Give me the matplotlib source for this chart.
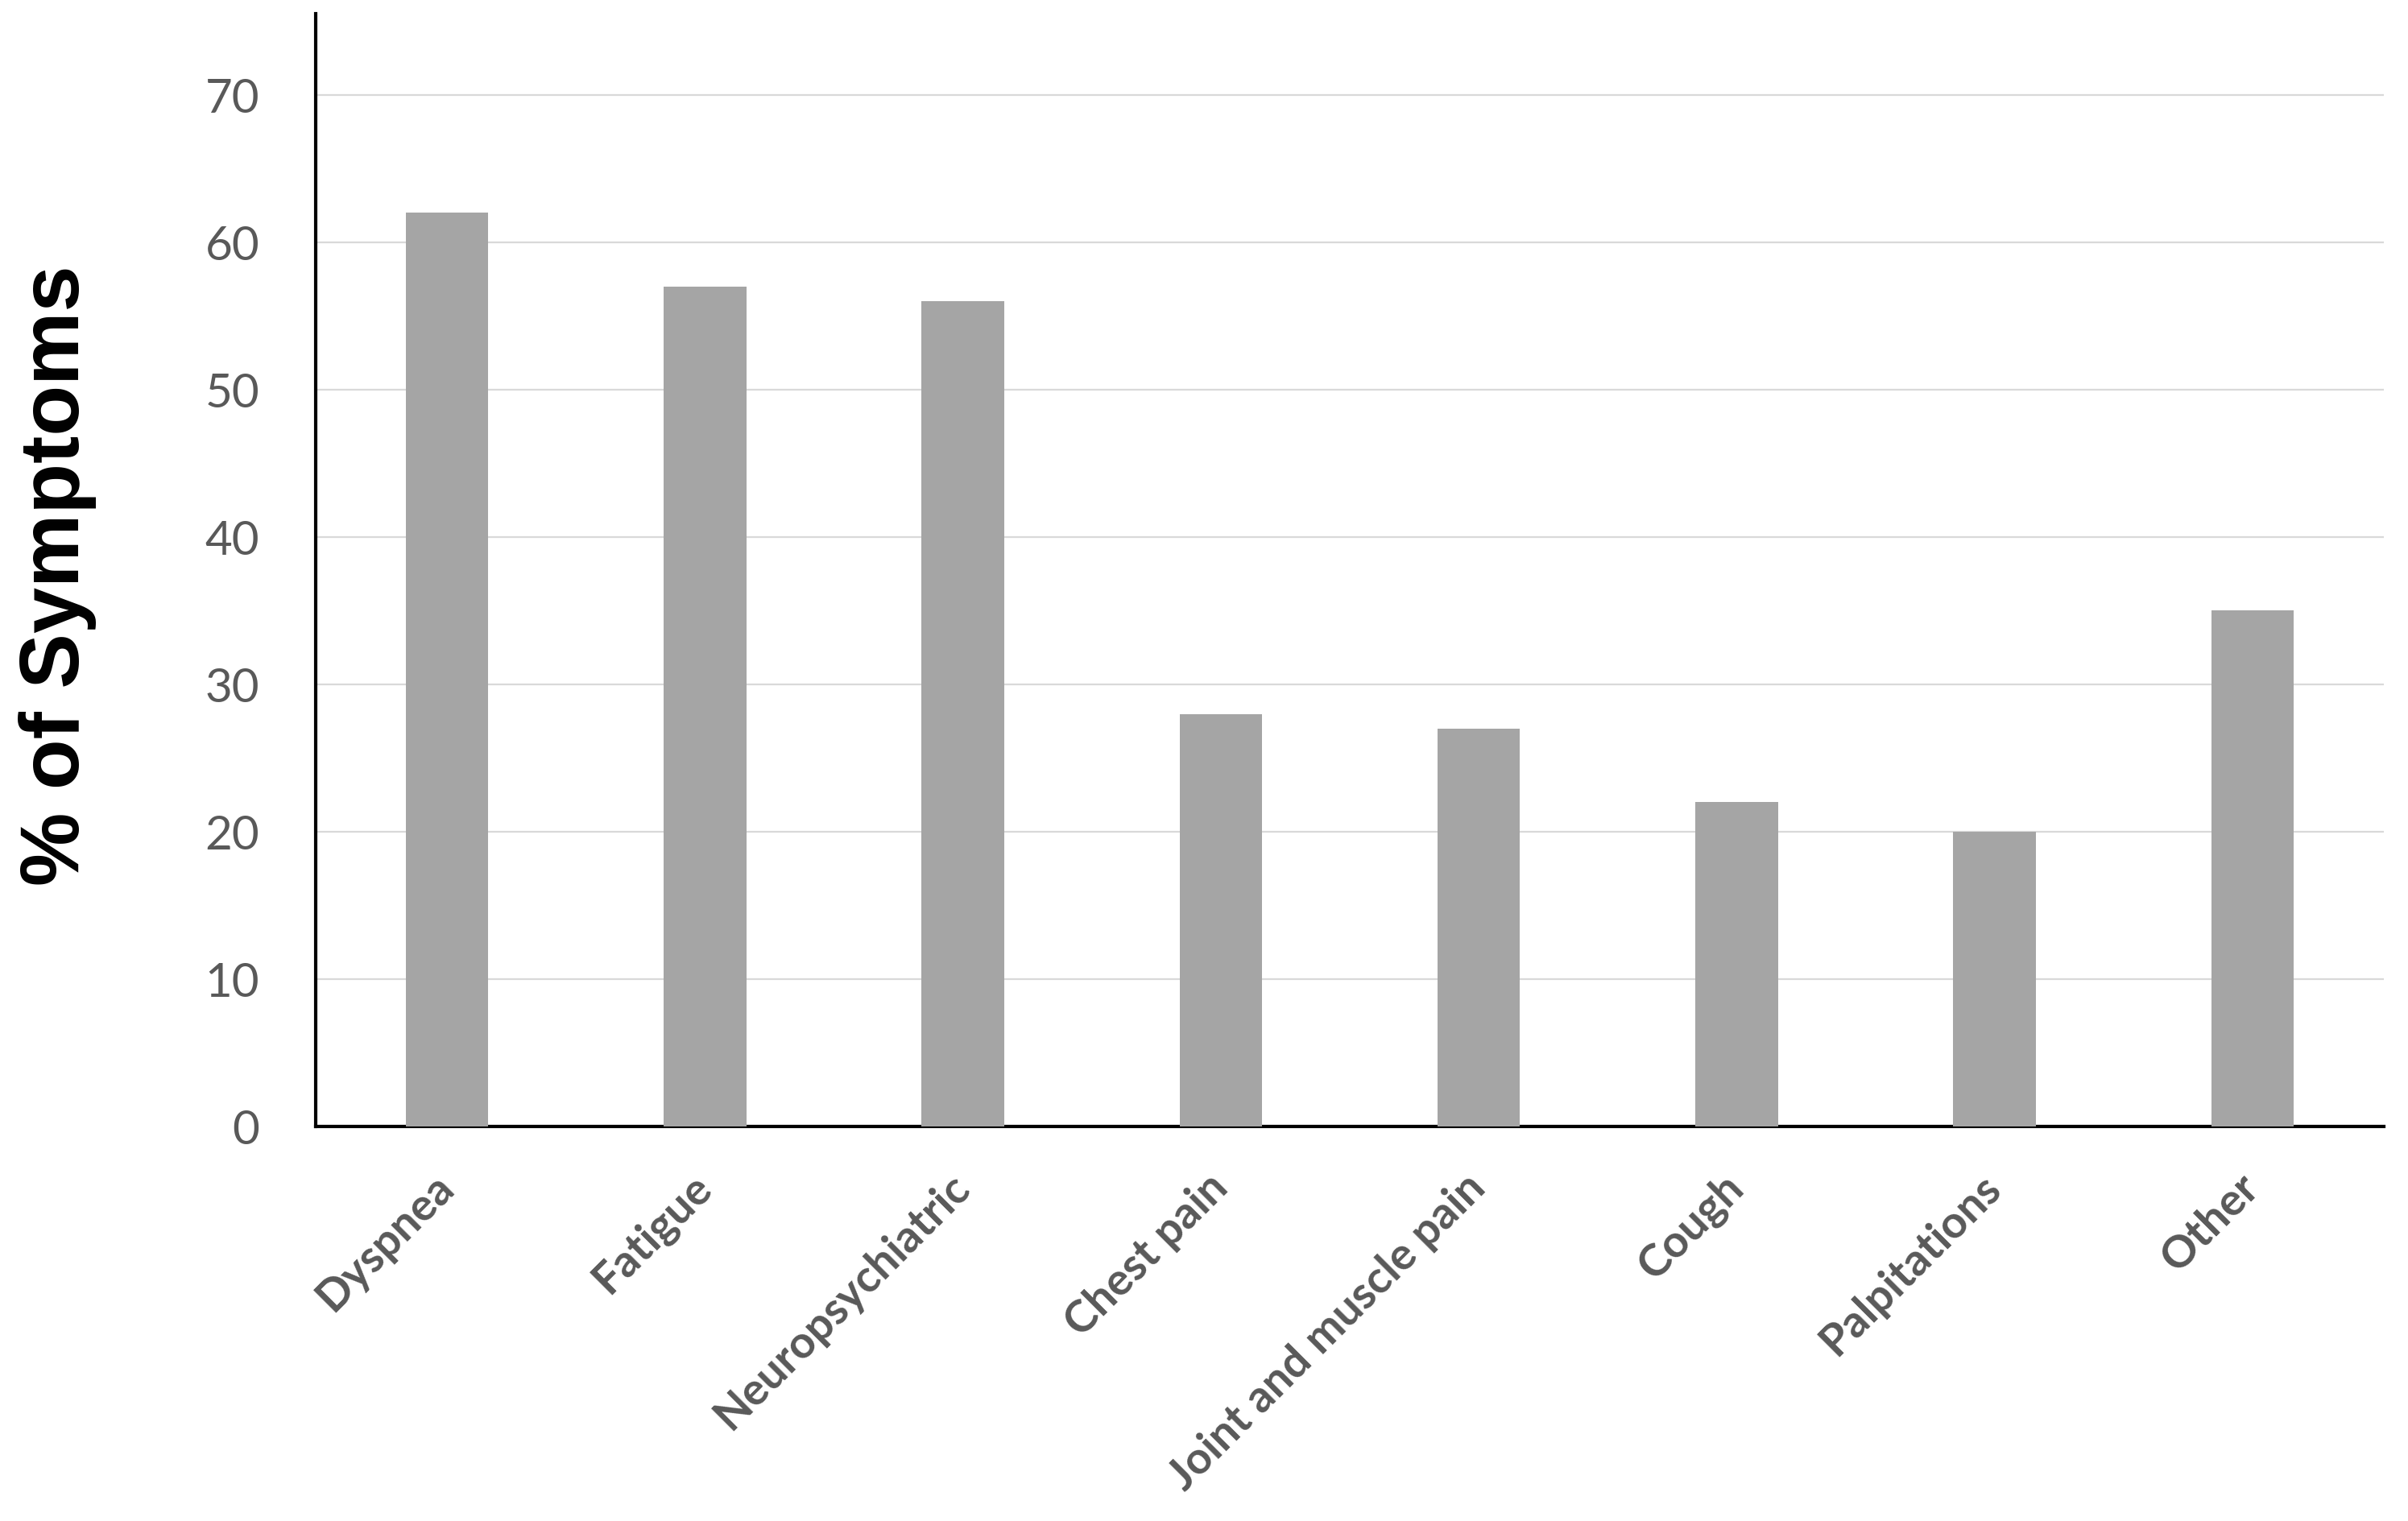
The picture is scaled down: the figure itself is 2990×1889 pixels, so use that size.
import matplotlib
matplotlib.use("Agg")
import matplotlib.pyplot as plt

categories = ["Dyspnea", "Fatigue", "Neuropsychiatric", "Chest pain",
              "Joint and muscle pain", "Cough", "Palpitations", "Other"]
percent = [62, 57, 56, 28, 27, 22, 20, 35]
yticks = [0, 10, 20, 30, 40, 50, 60, 70]

fig = plt.figure(figsize=(29.9, 18.9), dpi=100)
ax = fig.add_axes([0.131, 0.2593, 0.859, 0.731])

x = range(len(categories))
ax.bar(x, percent, width=0.32, color="#A5A5A5", zorder=3)

ax.set_xlim(-0.51, len(categories) - 0.49)
ax.set_ylim(0, 75.5)
ax.set_yticks(yticks)
ax.set_yticklabels([str(v) for v in yticks], family="Lato", fontsize=42, color="#595959")
ax.tick_params(axis="y", length=0, pad=50)
ax.yaxis.grid(True, color="#D9D9D9", linewidth=1.6, zorder=0)

ax.set_xticks(list(x))
ax.set_xticklabels(categories, rotation=45, ha="right", va="center", rotation_mode="anchor",
                   family="Lato", fontweight="bold", fontsize=40, color="#595959")
ax.tick_params(axis="x", length=0, pad=48)

for side in ["top", "right"]:
    ax.spines[side].set_visible(False)
for side in ["left", "bottom"]:
    ax.spines[side].set_linewidth(3)
    ax.spines[side].set_color("black")

fig.text(0.024, 0.622, "% of Symptoms", rotation=90, ha="center", va="center",
         family="Liberation Sans", fontweight="bold", fontsize=74, color="black")

fig.savefig("out.png", dpi=100, facecolor="white")
